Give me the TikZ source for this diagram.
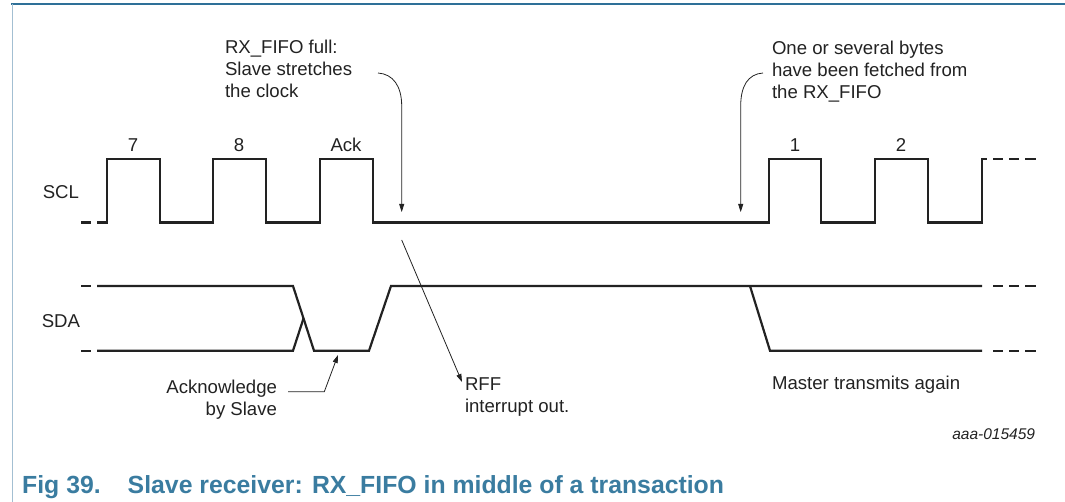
\documentclass[tikz,border=0pt]{standalone}
\usepackage{fontspec}
\setmainfont{Liberation Sans}
\usetikzlibrary{arrows.meta}
\definecolor{sig}{HTML}{222222}
\definecolor{capblue}{HTML}{3A7CA0}
\definecolor{frametop}{HTML}{2E7098}
\definecolor{frameleft}{HTML}{A3BFD2}
\begin{document}
\begin{tikzpicture}[x=1pt,y=-1pt,
  wave/.style={line width=2.2pt, draw=sig, line join=miter},
  note/.style={inner sep=0pt, outer sep=0pt, font=\fontsize{18.6}{22}\selectfont, text=sig},
  small/.style={inner sep=0pt, outer sep=0pt, font=\fontsize{15.5}{18}\selectfont\itshape, text=sig},
  ptr/.style={line width=0.8pt, draw=sig, -{Triangle[length=8pt,width=5pt]}},
]
\useasboundingbox (0,0) rectangle (1065,502);
% frame
\draw[frametop, line width=2.2pt] (11,4) -- (1065,4);
\draw[frameleft, line width=1.6pt] (12.5,4) -- (12.5,502);

% SCL waveform
\draw[wave] (81,222.5) -- (91,222.5);
\draw[wave] (97,222.5) -- (107,222.5) -- (107,159) -- (160,159) -- (160,222.5)
  -- (213,222.5) -- (213,159) -- (266,159) -- (266,222.5)
  -- (320,222.5) -- (320,159) -- (373,159) -- (373,222.5)
  -- (769,222.5) -- (769,159) -- (821,159) -- (821,222.5)
  -- (875,222.5) -- (875,159) -- (928,159) -- (928,222.5)
  -- (982,222.5) -- (982,159) -- (987,159);
\foreach \a/\b in {993/1003,1009/1019,1025/1036}
  \draw[wave] (\a,159) -- (\b,159);

% SDA waveform
\draw[wave] (81,286) -- (91,286);
\draw[wave] (81,350.7) -- (91,350.7);
\draw[wave] (97,286) -- (293,286) -- (314,350.7) -- (369,350.7) -- (391,286) -- (982,286);
\draw[wave] (97,350.7) -- (293,350.7) -- (303.5,318.4);
\draw[wave] (750,286) -- (770,350.7) -- (982,350.7);
\foreach \a/\b in {993/1003,1009/1019,1025/1036}{
  \draw[wave] (\a,286) -- (\b,286);
  \draw[wave] (\a,350.7) -- (\b,350.7);
}

% labels
\node[note, anchor=base east] (scl) at (79,198.6) {SCL};
\node[note, anchor=base east] (sda) at (80,327.6) {SDA};
\node[note, anchor=base] (b7) at (133,151.6) {7};
\node[note, anchor=base] (b8) at (239,151.6) {8};
\node[note, anchor=base] (back) at (346,151.6) {Ack};
\node[note, anchor=base] (b1) at (795,151.6) {1};
\node[note, anchor=base] (b2) at (901,151.6) {2};

\node[note, anchor=north west, align=left] (full) at (225,40) {RX\_FIFO full:\\Slave stretches\\the clock};
\node[note, anchor=north west, align=left] (fetch) at (772,41) {One or several bytes\\have been fetched from\\the RX\_FIFO};
\node[note, anchor=north east, align=right] (ack) at (277,380) {Acknowledge\\by Slave};
\node[note, anchor=north west, align=left] (rff) at (465,377.3) {RFF\\interrupt out.};
\node[note, anchor=base west] (master) at (772,389.6) {Master transmits again};
\node[small, anchor=base east] (id) at (1035,439.6) {aaa-015459};
\node[inner sep=0pt, anchor=base west, text=capblue, font=\fontsize{24.8}{28}\selectfont\bfseries] (cap) at (22,493) {Fig 39.\hspace{27pt}Slave receiver: RX\_FIFO in middle of a transaction};

% pointer coordinates
\coordinate (a1s) at (378,73);
\coordinate (a1e) at (401.7,212);
\coordinate (a2s) at (763,73);
\coordinate (a2e) at (740.7,212);
\coordinate (rs) at (401.7,240);
\coordinate (re) at (462,382);
\coordinate (ks) at (288,391.7);
\coordinate (ke) at (338,355);

\draw[ptr] (a1s) .. controls (393,74) and (401.7,86) .. (401.7,106) -- (a1e);
\draw[ptr] (a2s) .. controls (748,74) and (740.7,86) .. (740.7,106) -- (a2e);
\draw[ptr] (rs) -- (re);
\draw[ptr] (ks) -- (324.3,391.7) -- (ke);
\end{tikzpicture}
\end{document}
